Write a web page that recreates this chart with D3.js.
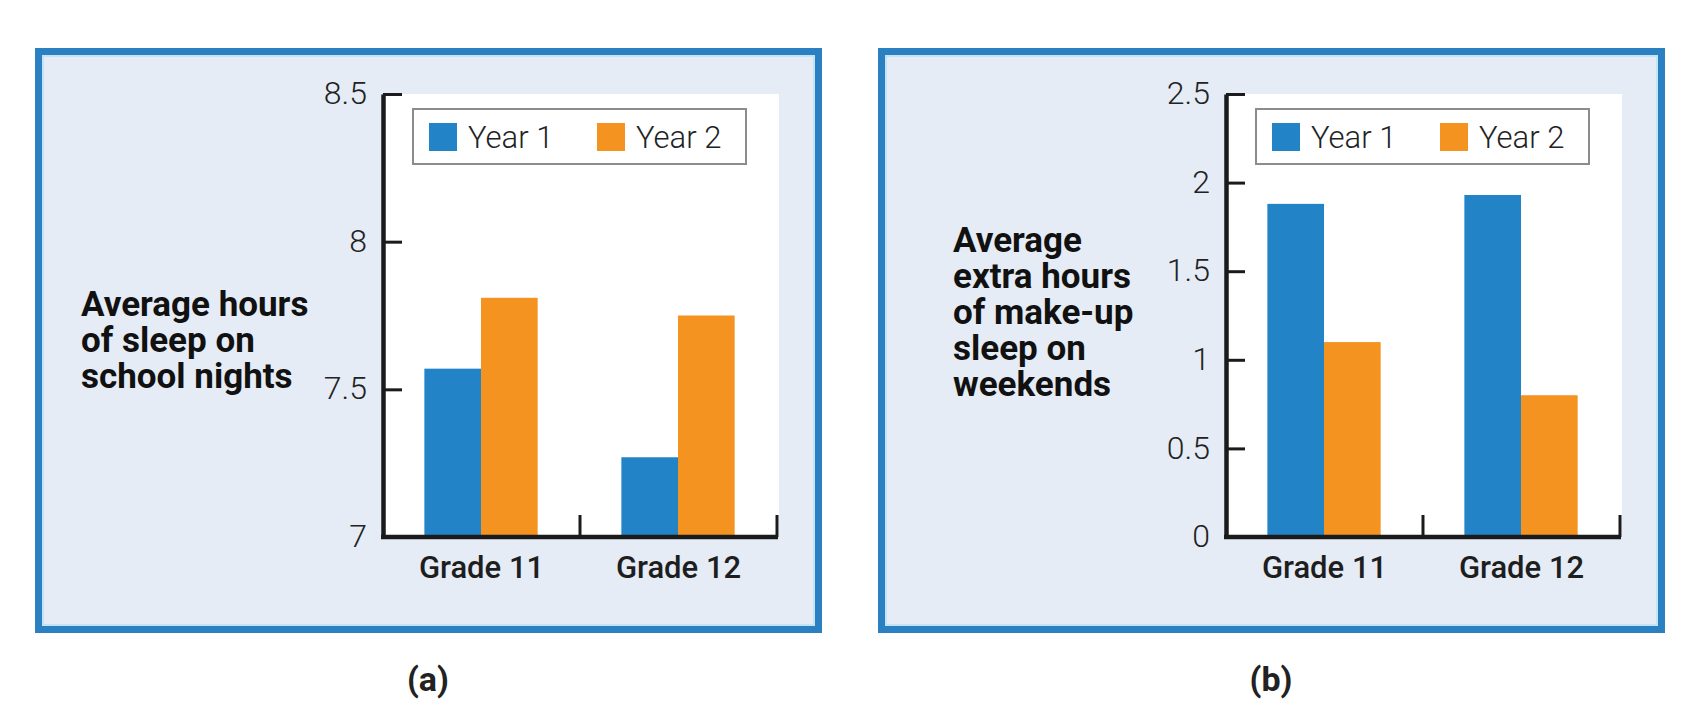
<!DOCTYPE html>
<html lang="en">
<head>
    <meta charset="UTF-8">
    <title>Sleep bar charts</title>
    <script src="https://cdn.jsdelivr.net/npm/d3@7"></script>
    <style>
        body { margin: 0; background: #fff; }
        svg { display: block; }
    </style>
</head>
<body>
    <script>
        // data
        var categories = ["Grade 11", "Grade 12"];
        var seriesNames = ["Year 1", "Year 2"];
        var seriesColors = ["#2383c7", "#f49320"];

        var schoolYear1 = [7.57, 7.27];   // (a) hours on school nights
        var schoolYear2 = [7.81, 7.75];
        var schoolTicks = [7, 7.5, 8, 8.5];

        var weekendYear1 = [1.88, 1.93];  // (b) extra make-up hours on weekends
        var weekendYear2 = [1.1, 0.8];
        var weekendTicks = [0, 0.5, 1, 1.5, 2, 2.5];

        var titleA = ["Average hours", "of sleep on", "school nights"];
        var titleB = ["Average", "extra hours", "of make-up", "sleep on", "weekends"];

        var width = 1692, height = 725;
        var svg = d3.select("body").append("svg")
                .attr("width", width).attr("height", height);

        var plotTop = 94, plotBottom = 537, plotWidth = 394;

        function drawPanel(opt) {
            var g = svg.append("g").attr("transform", "translate(" + opt.left + ",0)");

            // panel frame
            g.append("rect")
                .attr("x", 3.5).attr("y", 51.5)
                .attr("width", 780).attr("height", 578)
                .attr("fill", "#e5ecf5")
                .attr("stroke", "#2a80c1").attr("stroke-width", 7);
            g.append("rect")
                .attr("x", 8).attr("y", 56)
                .attr("width", 771).attr("height", 569)
                .attr("fill", "none")
                .attr("stroke", "#c3e4f6").attr("stroke-width", 2);

            var ax = opt.axisX;
            var y = d3.scaleLinear().domain(opt.domain).range([plotBottom, plotTop]);
            var x = d3.scaleBand().domain(categories).range([ax, ax + plotWidth]);
            var xs = d3.scaleBand().domain(seriesNames)
                .range([x.bandwidth() * 0.21, x.bandwidth() * 0.785]);

            // white plot area
            g.append("rect")
                .attr("x", ax).attr("y", plotTop)
                .attr("width", plotWidth + 2).attr("height", plotBottom - plotTop)
                .attr("fill", "#fff");

            // legend
            var lg = g.append("g").attr("transform", "translate(" + (ax + 30) + ",109)");
            lg.append("rect").attr("width", 333).attr("height", 55)
                .attr("fill", "#fff").attr("stroke", "#8c8c8c").attr("stroke-width", 2);
            var item = lg.selectAll("g.item").data(seriesNames).enter().append("g")
                .attr("transform", function(d, i){ return "translate(" + (16 + i * 168) + ",14)"; });
            item.append("rect").attr("width", 28).attr("height", 28)
                .attr("fill", function(d, i){ return seriesColors[i]; });
            item.append("text")
                .attr("x", 39).attr("y", 25)
                .attr("font-family", "Roboto, sans-serif").attr("font-weight", 300)
                .attr("font-size", "31px").attr("fill", "#222")
                .text(function(d){ return d; });

            // bars
            var rows = categories.map(function(c, i){
                return { cat: c, vals: [opt.s1[i], opt.s2[i]] };
            });
            var grp = g.selectAll("g.grp").data(rows).enter().append("g")
                .attr("transform", function(d){ return "translate(" + x(d.cat) + ",0)"; });
            grp.selectAll("rect").data(function(d){ return d.vals; }).enter().append("rect")
                .attr("x", function(d, i){ return xs(seriesNames[i]); })
                .attr("width", xs.bandwidth())
                .attr("y", function(d){ return y(d); })
                .attr("height", function(d){ return plotBottom - y(d); })
                .attr("fill", function(d, i){ return seriesColors[i]; });

            // y axis with inward ticks
            var yAxis = d3.axisLeft(y).tickValues(opt.ticks)
                .tickFormat(function(d){ return String(d); })
                .tickSizeInner(-19).tickSizeOuter(0).tickPadding(16);
            var yg = g.append("g").attr("transform", "translate(" + ax + ",0)").call(yAxis);
            yg.select(".domain").attr("stroke", "#1b1b1b").attr("stroke-width", 4.5);
            yg.selectAll(".tick line").attr("stroke", "#1b1b1b").attr("stroke-width", 3);
            yg.selectAll(".tick text")
                .attr("font-family", "Roboto, sans-serif").attr("font-weight", 300)
                .attr("font-size", "32px").attr("fill", "#222")
                .attr("dy", "0.3em");

            // baseline with category boundary ticks
            var xAxis = d3.axisBottom(x).tickSize(0).tickPadding(0);
            var xg = g.append("g").attr("transform", "translate(0," + plotBottom + ")").call(xAxis);
            xg.select(".domain").remove();
            xg.selectAll(".tick text")
                .attr("font-family", "Roboto, sans-serif").attr("font-weight", 500)
                .attr("font-size", "31px").attr("fill", "#1e1e1e")
                .attr("dy", 0).attr("y", 41);
            g.append("line")
                .attr("x1", ax - 2).attr("x2", ax + plotWidth + 1)
                .attr("y1", plotBottom).attr("y2", plotBottom)
                .attr("stroke", "#1b1b1b").attr("stroke-width", 4.5);
            g.selectAll("line.bound").data(categories).enter().append("line")
                .attr("class", "bound")
                .attr("x1", function(d){ return x(d) + x.step(); })
                .attr("x2", function(d){ return x(d) + x.step(); })
                .attr("y1", plotBottom).attr("y2", plotBottom - 22)
                .attr("stroke", "#1b1b1b").attr("stroke-width", 3);

            // axis title
            var t = g.append("text")
                .attr("font-family", "Roboto, sans-serif").attr("font-weight", 700)
                .attr("font-size", "35px").attr("fill", "#111");
            t.selectAll("tspan").data(opt.title).enter().append("tspan")
                .attr("x", opt.titleX)
                .attr("y", function(d, i){ return opt.titleY + i * 36; })
                .text(function(d){ return d; });

            // panel letter
            g.append("text")
                .attr("x", 393).attr("y", 691)
                .attr("text-anchor", "middle")
                .attr("font-family", "Roboto, sans-serif").attr("font-weight", 700)
                .attr("font-size", "34px").attr("fill", "#222")
                .text(opt.letter);
        }

        drawPanel({ left: 35, axisX: 348, domain: [7, 8.5], ticks: schoolTicks,
                    s1: schoolYear1, s2: schoolYear2,
                    title: titleA, titleX: 46, titleY: 316, letter: "(a)" });

        drawPanel({ left: 878, axisX: 348, domain: [0, 2.5], ticks: weekendTicks,
                    s1: weekendYear1, s2: weekendYear2,
                    title: titleB, titleX: 75, titleY: 252, letter: "(b)" });
    </script>
</body>
</html>
